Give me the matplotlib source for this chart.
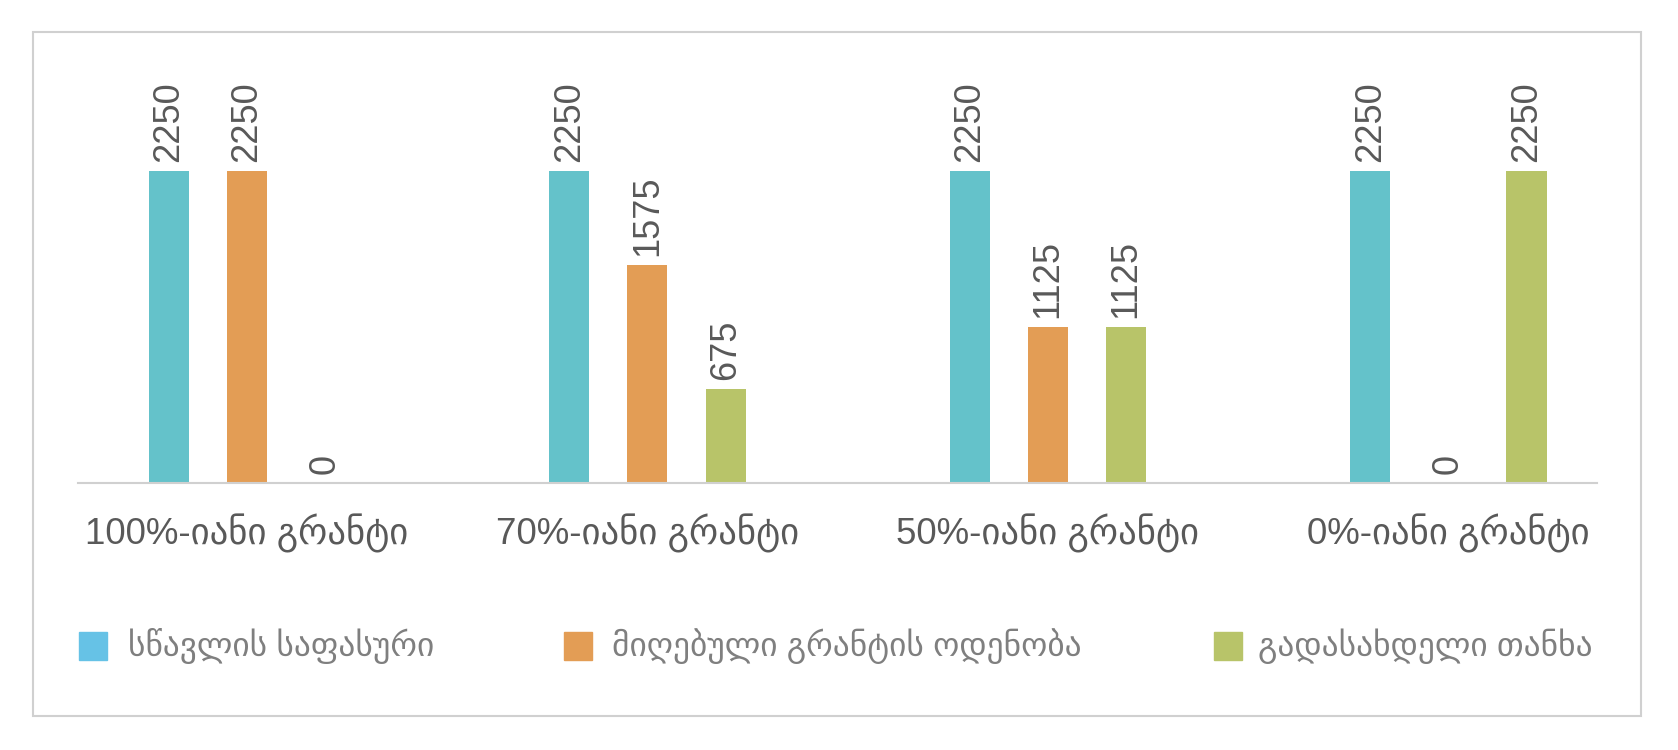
import numpy as np
import matplotlib.pyplot as plt
from matplotlib.patches import Rectangle

categories = ['100%-იანი გრანტი', '70%-იანი გრანტი', '50%-იანი გრანტი', '0%-იანი გრანტი']
series_names = ['სწავლის საფასური', 'მიღებული გრანტის ოდენობა', 'გადასახდელი თანხა']
tuition = [2250, 2250, 2250, 2250]
grant = [2250, 1575, 1125, 0]
to_pay = [0, 675, 1125, 2250]

bar_colors = ['#64C2CA', '#E39D55', '#B8C469']
legend_colors = ['#66C2E6', '#E39D55', '#B8C469']
fonts = ['Liberation Sans', 'DejaVu Sans']

W, H = 1678, 750
fig = plt.figure(figsize=(W / 100, H / 100), dpi=100)

# plot area in pixels
ax_left, ax_right = 78, 1597
ax_top, ax_base = 60, 483
ax = fig.add_axes([ax_left / W, (H - ax_base) / H, (ax_right - ax_left) / W, (ax_base - ax_top) / H])

x = np.arange(len(categories))
offsets = [-0.195, 0, 0.195]
all_vals = [tuition, grant, to_pay]
for k in range(3):
    ax.bar(x + offsets[k], all_vals[k], width=0.1, color=bar_colors[k])
    for xi, v in zip(x + offsets[k], all_vals[k]):
        ax.annotate(str(v), xy=(xi, v), xytext=(0, 6.5), textcoords='offset points',
                    rotation=90, ha='center', va='bottom', fontsize=26,
                    color='#595959', family=fonts)

for xi, c in zip(x, categories):
    ax.annotate(c, xy=(xi, 0), xytext=(0, -36), textcoords='offset points',
                ha='center', va='center', fontsize=26.5, color='#595959', family=fonts)

ax.set_xlim(-0.422, 3.371)
ax.set_ylim(0, 3050)
for s in ['top', 'left', 'right']:
    ax.spines[s].set_visible(False)
ax.spines['bottom'].set_color('#D0D0D0')
ax.spines['bottom'].set_linewidth(1.5)
ax.set_xticks([])
ax.set_yticks([])

# outer frame
fig.patches.append(Rectangle((33 / W, (H - 716) / H), (1641 - 33) / W, (716 - 32) / H,
                             transform=fig.transFigure, fill=False,
                             edgecolor='#D0D0D0', linewidth=1.5))

# legend
sq_x = [79, 564, 1214]
tx_x = [128, 612, 1258]
for k in range(3):
    fig.patches.append(Rectangle((sq_x[k] / W, (H - 660) / H), 28 / W, 28 / H,
                                 transform=fig.transFigure, color=legend_colors[k]))
    fig.text(tx_x[k] / W, (H - 646) / H, series_names[k], ha='left', va='center',
             fontsize=24, color='#7F7F7F', family=fonts)

fig.savefig('out.png', dpi=100)
